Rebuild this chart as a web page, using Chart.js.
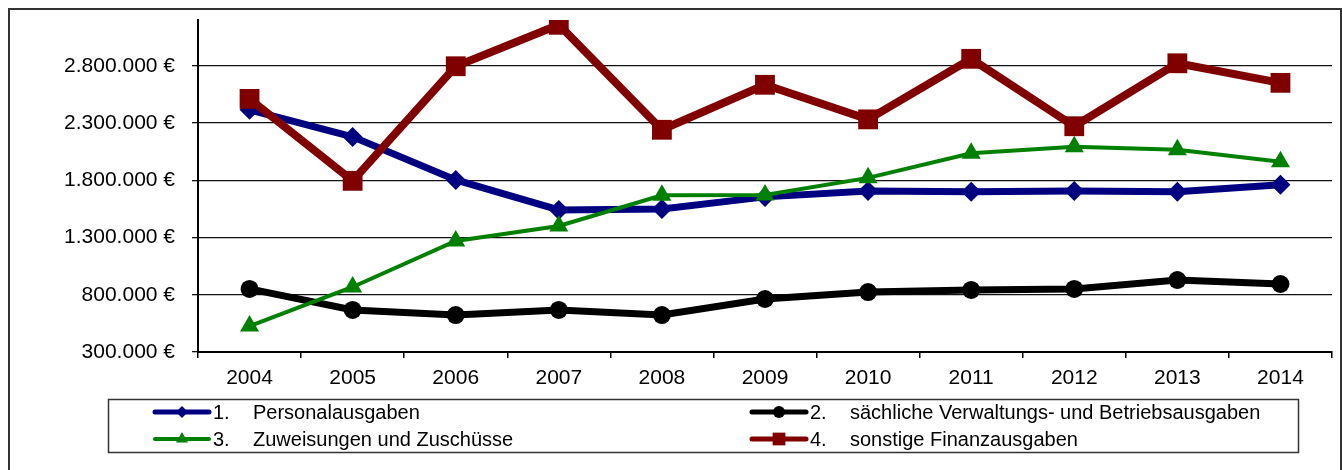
<!DOCTYPE html>
<html>
<head>
<meta charset="utf-8">
<script src="https://cdn.jsdelivr.net/npm/chart.js@4/dist/chart.umd.min.js"></script>
<style>
  body { margin: 0; background: #fff; }
  #wrap { width: 1342px; height: 470px; }
</style>
</head>
<body>
<div id="wrap"><canvas id="lineChart" width="1342" height="470"></canvas></div>
<script>
// Jahre auf der x-Achse
const years = ['2004', '2005', '2006', '2007', '2008', '2009', '2010', '2011', '2012', '2013', '2014'];

// Werte in Euro
const personalausgaben = [2415000, 2179000, 1803000, 1541000, 1550000, 1655000, 1707000, 1699000, 1707000, 1699000, 1760000];
const saechlicheAusgaben = [851000, 667000, 623000, 667000, 623000, 763000, 824000, 842000, 851000, 929000, 894000];
const zuweisungen = [527000, 868000, 1270000, 1401000, 1669000, 1672000, 1821000, 2036000, 2092000, 2066000, 1961000];
const sonstigeFinanz = [2511000, 1795000, 2796000, 3158000, 2241000, 2634000, 2332000, 2861000, 2272000, 2822000, 2651000];

// Legendentexte
const seriesNumbers = ['1.', '2.', '3.', '4.'];
const seriesNames = [
    'Personalausgaben',
    'sächliche Verwaltungs- und Betriebsausgaben',
    'Zuweisungen und Zuschüsse',
    'sonstige Finanzausgaben'
];

// y-Achse
const yMin = 300000;
const yMax = 3200000;
const yTickValues = [300000, 800000, 1300000, 1800000, 2300000, 2800000];

const FONT = '"Liberation Sans", Arial, sans-serif';

// Format "2.800.000 €"
function formatEuro(v) {
    return String(v).replace(/\B(?=(\d{3})+(?!\d))/g, '.') + ' €';
}

// Rahmen um das ganze Diagramm
const framePlugin = {
    id: 'frame',
    beforeDraw(chart) {
        const ctx = chart.ctx;
        ctx.save();
        ctx.fillStyle = '#fff';
        ctx.fillRect(0, 0, chart.width, chart.height);
        ctx.strokeStyle = '#333';
        ctx.lineWidth = 2;
        ctx.strokeRect(9, 9, 1332, 480);
        ctx.restore();
    }
};

// Legende im Excel-Stil (zwei Spalten, Kasten)
const legendPlugin = {
    id: 'boxLegend',
    afterDraw(chart) {
        const ctx = chart.ctx;
        ctx.save();
        ctx.strokeStyle = '#333';
        ctx.lineWidth = 1.5;
        ctx.strokeRect(108.5, 399.5, 1190, 53);

        const cols = [155, 752];
        const rows = [412, 439];
        const markerSizes = [6, 6, 7, 9];
        const lineWidths = [5, 5, 4, 5];
        chart.data.datasets.forEach((ds, i) => {
            const x0 = cols[i % 2];
            const y = rows[Math.floor(i / 2)];
            ctx.strokeStyle = ds.borderColor;
            ctx.fillStyle = ds.borderColor;
            ctx.lineWidth = lineWidths[i];
            ctx.lineCap = 'round';
            ctx.beginPath();
            ctx.moveTo(x0, y);
            ctx.lineTo(x0 + 54, y);
            ctx.stroke();
            Chart.helpers.drawPoint(ctx, {
                pointStyle: ds.pointStyle,
                radius: markerSizes[i],
                rotation: 0,
                borderWidth: 0
            }, x0 + 27, y);

            ctx.fillStyle = '#000';
            ctx.font = '20px ' + FONT;
            ctx.textBaseline = 'middle';
            ctx.textAlign = 'left';
            ctx.fillText(seriesNumbers[i], x0 + 58, y + 1);
            ctx.fillText(seriesNames[i], x0 + 98, y + 1);
        });
        ctx.restore();
    }
};

function makeDataset(label, data, color, width, style, radius, order) {
    return {
        label: label,
        data: data,
        borderColor: color,
        backgroundColor: color,
        borderWidth: width,
        pointStyle: style,
        pointRadius: radius,
        pointHoverRadius: radius,
        pointBorderWidth: 0,
        pointBackgroundColor: color,
        tension: 0,
        order: order
    };
}

const config = {
    type: 'line',
    data: {
        labels: years,
        datasets: [
            makeDataset(seriesNames[0], personalausgaben, '#000080', 7, 'rectRot', 10, 4),
            makeDataset(seriesNames[1], saechlicheAusgaben, '#000000', 7, 'circle', 9, 3),
            makeDataset(seriesNames[2], zuweisungen, '#008000', 4, 'triangle', 11, 2),
            makeDataset(seriesNames[3], sonstigeFinanz, '#800000', 8, 'rect', 14, 1)
        ]
    },
    options: {
        responsive: false,
        animation: false,
        events: [],
        layout: { autoPadding: false, padding: { left: 0, top: 20, right: 10, bottom: 0 } },
        plugins: {
            legend: { display: false },
            tooltip: { enabled: false }
        },
        scales: {
            x: {
                offset: true,
                grid: {
                    offset: true,
                    drawOnChartArea: false,
                    drawTicks: true,
                    tickLength: 6,
                    color: '#000',
                    lineWidth: 1.5
                },
                border: { color: '#000', width: 2 },
                ticks: {
                    color: '#000',
                    padding: 8,
                    maxRotation: 0,
                    font: { family: FONT, size: 21 }
                },
                afterFit(scale) {
                    scale.height = 118;
                    scale.paddingLeft = 0;
                    scale.paddingRight = 0;
                }
            },
            y: {
                min: yMin,
                max: yMax,
                grid: {
                    color: '#111',
                    lineWidth: 1.3,
                    drawTicks: true,
                    tickLength: 6
                },
                border: { color: '#000', width: 2 },
                ticks: {
                    color: '#000',
                    padding: 17,
                    font: { family: FONT, size: 21 },
                    callback: v => formatEuro(v)
                },
                afterBuildTicks(scale) {
                    scale.ticks = yTickValues.map(v => ({ value: v }));
                },
                afterFit(scale) {
                    scale.width = 198;
                    scale.paddingTop = 0;
                    scale.paddingBottom = 0;
                }
            }
        }
    },
    plugins: [framePlugin, legendPlugin]
};

new Chart(document.getElementById('lineChart').getContext('2d'), config);
</script>
</body>
</html>
